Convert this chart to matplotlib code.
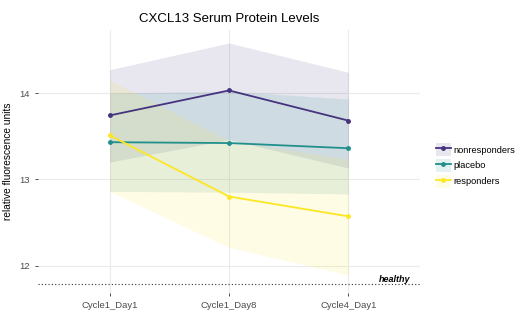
import matplotlib
matplotlib.use("Agg")
import matplotlib.pyplot as plt
from matplotlib.patches import Patch
from matplotlib.lines import Line2D

plt.rcParams['font.family'] = ['Liberation Sans', 'DejaVu Sans']

# data
visits = ["Cycle1_Day1", "Cycle1_Day8", "Cycle4_Day1"]
groups = ["nonresponders", "placebo", "responders"]
colors = ["#46337E", "#21908C", "#FDE725"]

nonresp_mean = [13.74, 14.03, 13.68]
nonresp_lo = [13.20, 13.46, 13.13]
nonresp_hi = [14.27, 14.58, 14.24]

placebo_mean = [13.43, 13.42, 13.36]
placebo_lo = [12.86, 12.85, 12.83]
placebo_hi = [14.00, 14.02, 13.93]

resp_mean = [13.51, 12.80, 12.57]
resp_lo = [12.86, 12.21, 11.89]
resp_hi = [14.15, 13.45, 13.23]

healthy = 11.78

means = [nonresp_mean, placebo_mean, resp_mean]
lows = [nonresp_lo, placebo_lo, resp_lo]
highs = [nonresp_hi, placebo_hi, resp_hi]

fig = plt.figure(figsize=(5.2, 3.2), dpi=100)
ax = fig.add_axes([0.073, 0.084, 0.735, 0.822])

x = list(range(len(visits)))
for m, lo, hi, c in zip(means, lows, highs, colors):
    ax.fill_between(x, lo, hi, color=c, alpha=0.12, linewidth=0)
for m, c in zip(means, colors):
    ax.plot(x, m, color=c, lw=1.3, marker="o", ms=2.5, zorder=3)

ax.axhline(healthy, color="#333333", ls=(0, (1, 2)), lw=0.8)
ax.text(2.52, healthy + 0.01, "healthy", fontsize=6.5, fontweight="bold",
        fontstyle="italic", ha="right", va="bottom")

ax.set_xlim(-0.6, 2.6)
ax.set_ylim(11.68, 14.73)
ax.set_xticks(x)
ax.set_xticklabels(visits)
ax.set_yticks([12, 13, 14])
ax.tick_params(labelsize=6.8, labelcolor="#4D4D4D", color="#333333",
               length=2.5, width=0.6)
ax.grid(True, color="#EBEBEB", lw=0.8)
ax.set_axisbelow(True)
for s in ax.spines.values():
    s.set_visible(False)

ax.set_ylabel("relative fluorescence units", fontsize=7.3, color="black")
ax.set_title("CXCL13 Serum Protein Levels", fontsize=9.5, pad=6)

handles = [(Patch(facecolor=c, alpha=0.12, edgecolor="none"),
            Line2D([], [], color=c, lw=1.3, marker="o", ms=2.5)) for c in colors]
fig.legend(handles, groups, loc="center left", bbox_to_anchor=(0.829, 0.483),
           frameon=False, fontsize=6.7, handlelength=1.6, handleheight=1.7,
           handletextpad=0.3, labelspacing=0.35, borderpad=0)

fig.savefig("out.png", dpi=100)
